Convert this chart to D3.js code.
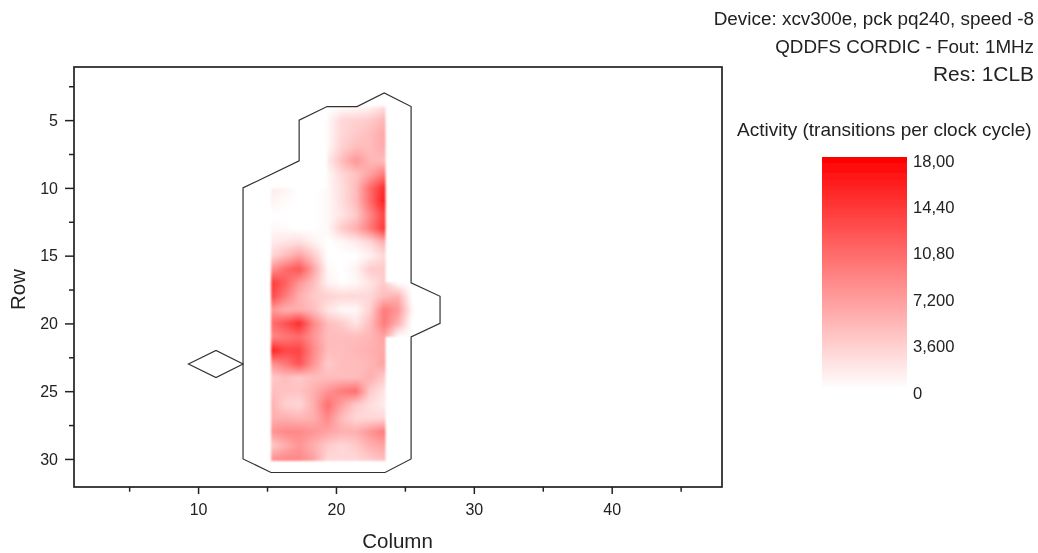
<!DOCTYPE html>
<html><head><meta charset="utf-8">
<script src="https://cdnjs.cloudflare.com/ajax/libs/d3/7.8.5/d3.min.js"></script>
<style>html,body{margin:0;padding:0;background:#fff}svg{display:block}text{font-family:"Liberation Sans",Arial,sans-serif;fill:#222}</style>
</head><body><div id="c"></div>
<script>
const cols=[15.3,16.33,17.35,18.38,19.4,20.43,21.45,22.48,23.5,24.5,25.5];
const rows=[4,5,6,7,8,9,10,11,12,13,14,15,16,17,18,19,20,21,22,23,24,25,26,27,28,29,30];
const _=null;
const activity=[
[_,_,_,_,0,0,0.2,0.8,2.5,_,_],
[_,_,_,_,0.5,3,3.5,4,5.5,_,_],
[_,_,_,_,0.5,3,4,5,6.5,_,_],
[_,_,_,_,0.5,3.5,5,5,6.5,_,_],
[_,_,_,_,1.5,5,8,5.5,5,_,_],
[_,_,_,_,0.5,3,4.5,7,10,_,_],
[1.5,1,0,0,0.5,2.5,5,11,16,_,_],
[1,0.3,0,0,0.5,2.5,5,11,17,_,_],
[0,0,0,0,0.5,2,4,9,14,_,_],
[0.5,0.3,0,0,0.5,4,6,10,15,_,_],
[1.5,2,2.5,1,0,0.5,1.5,3,6,_,_],
[3,5,7,4,0,0,0,1,3,_,_],
[8,11,13,7,0.5,0,1,4,4,_,_],
[15,12,8,5,1,0,0.5,2,4,0,0],
[14,10,6,4,3.5,3,3,3,5,6,0],
[8,6,6,5,2,0.5,0.5,3.5,10,8,1],
[11,13,16,9,5,4,2,5,10,6,0],
[9,10,11,8,5,5,5,5.5,7,0,0],
[17,14,14,9,5,5,5.5,6,6.5,_,_],
[8,10,13,8,4,5,5,5.5,7,_,_],
[4,5,4,5,5,5,5,6,4,_,_],
[5,4.5,4.5,6,8,10,11,4,2,_,_],
[6,3.5,3,6,11,7,4,2.5,1.5,_,_],
[6,6,5.5,6,9,5,3,3,3,_,_],
[8,9,9,8,7,6,6,8,10,_,_],
[4,6,8,6,4,3,4,6,7,_,_],
[8,9,9,7,3,3,3,4,5,_,_]];
const outline=[[13.26,10],[17.33,8],[17.33,5],[19.36,4],[21.53,4],[23.5,3],[25.45,4],[25.45,17],[27.55,18],[27.55,20],[25.45,21],[25.45,30],[23.56,31],[15.29,31],[13.26,30]];
const island=[[9.3,23],[11.3,22],[13.26,23],[11.3,24]];
const xTicks=[10,20,30,40], xMinor=[5,15,25,35,45];
const yTicks=[5,10,15,20,25,30], yMinor=[2.5,7.5,12.5,17.5,22.5,27.5];
const legendLabels=["18,00","14,40","10,80","7,200","3,600","0"];
const legendValues=[18,14.4,10.8,7.2,3.6,0];
const header=["Device: xcv300e, pck pq240, speed -8","QDDFS CORDIC - Fout: 1MHz","Res: 1CLB"];

const W=1038,H=553;
const svg=d3.select("#c").append("svg").attr("width",W).attr("height",H);
const defs=svg.append("defs");
defs.append("filter").attr("id","soft").attr("x","0").attr("y","0").attr("width","100%").attr("height","100%")
  .append("feGaussianBlur").attr("stdDeviation",0.45);
defs.append("filter").attr("id","heat").attr("x","-5%").attr("y","-5%").attr("width","110%").attr("height","110%")
  .append("feGaussianBlur").attr("stdDeviation",1.1);
const root=svg.append("g").attr("filter","url(#soft)");
root.append("rect").attr("width",W).attr("height",H).attr("fill","#fff");
const x=d3.scaleLinear().domain([1,48]).range([74,722]);
const y=d3.scaleLinear().domain([1.08,32.07]).range([67,487]);
const color=d3.scaleLinear().domain([0,18]).range(["#fff","#ff0000"]).clamp(true);

function bilinear(cx,ry){
  const i=Math.min(cols.length-2,d3.bisectRight(cols,cx)-1), j=Math.min(rows.length-2,d3.bisectRight(rows,ry)-1);
  if(i<0||j<0)return null;
  const a=activity[j][i],b=activity[j][i+1],c=activity[j+1][i],d=activity[j+1][i+1];
  if(a===null||b===null||c===null||d===null)return null;
  const t=(cx-cols[i])/(cols[i+1]-cols[i]),u=(ry-rows[j])/(rows[j+1]-rows[j]);
  return a*(1-t)*(1-u)+b*t*(1-u)+c*(1-t)*u+d*t*u;
}
const step=2, samples=[];
for(let px=x(cols[0]);px<x(cols[cols.length-1]);px+=step)
  for(let py=y(rows[0]);py<y(rows[rows.length-1]);py+=step){
    const v=bilinear(x.invert(px+step/2),y.invert(py+step/2));
    if(v!==null&&v>0.15)samples.push({px,py,v});
  }
root.append("g").attr("filter","url(#heat)").selectAll("rect").data(samples).join("rect")
  .attr("x",d=>d.px).attr("y",d=>d.py).attr("width",step+0.3).attr("height",step+0.3)
  .attr("fill",d=>color(d.v));

const line=d3.line().x(d=>x(d[0])).y(d=>y(d[1]));
[outline,island].forEach(p=>root.append("path").attr("d",line(p)+"Z").attr("fill","none").attr("stroke","#333").attr("stroke-width",1.2));

root.append("rect").attr("x",74).attr("y",67).attr("width",648).attr("height",420).attr("fill","none").attr("stroke","#222").attr("stroke-width",1.7);

const ax=root.append("g").attr("transform","translate(0,487)").call(d3.axisBottom(x).tickValues(xTicks).tickSize(7).tickSizeOuter(0).tickPadding(9.5));
const axm=root.append("g").attr("transform","translate(0,487)").call(d3.axisBottom(x).tickValues(xMinor).tickSize(4.7).tickSizeOuter(0).tickFormat(""));
const ay=root.append("g").attr("transform","translate(74,0)").call(d3.axisLeft(y).tickValues(yTicks).tickSize(9).tickSizeOuter(0).tickPadding(7));
const aym=root.append("g").attr("transform","translate(74,0)").call(d3.axisLeft(y).tickValues(yMinor).tickSize(5).tickSizeOuter(0).tickFormat(""));
[ax,axm,ay,aym].forEach(g=>{g.select(".domain").remove();g.selectAll("line").attr("stroke","#222").attr("stroke-width",1.5);g.selectAll("text").attr("font-size",16).attr("font-family",null)});

root.append("text").attr("x",397.5).attr("y",548).attr("text-anchor","middle").attr("font-size",20.5).text("Column");
root.append("text").attr("transform","translate(25,289.5) rotate(-90)").attr("text-anchor","middle").attr("font-size",20.5).text("Row");

const hy=[25,53,81],hs=[18.9,18.8,20.9];
root.append("g").selectAll("text").data(header).join("text").attr("x",1034).attr("y",(d,i)=>hy[i]).attr("text-anchor","end").attr("font-size",(d,i)=>hs[i]).text(d=>d);
root.append("text").attr("x",737).attr("y",136).attr("font-size",19).text("Activity (transitions per clock cycle)");

const ly=d3.scaleLinear().domain([0,18]).range([389,157]);
const levels=d3.range(157,389).map(p=>ly.invert(p+0.5));
root.append("g").selectAll("rect").data(levels).join("rect")
  .attr("x",822).attr("width",85).attr("y",d=>Math.floor(ly(d))).attr("height",1.2)
  .attr("fill",d=>color(d));
root.append("g").selectAll("text").data(legendLabels).join("text")
  .attr("x",913).attr("y",(d,i)=>ly(legendValues[i])+9.5).attr("font-size",16.6).text(d=>d);
</script></body></html>
